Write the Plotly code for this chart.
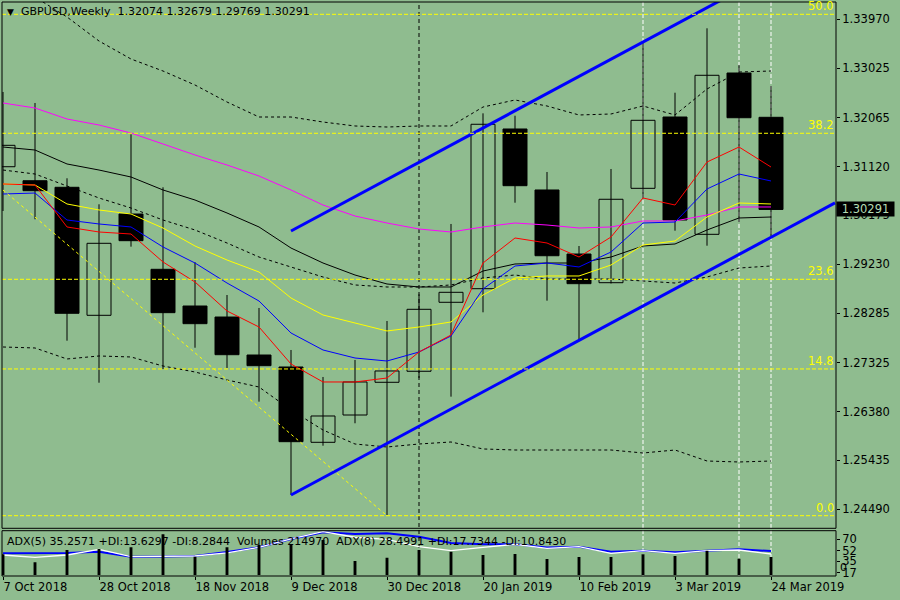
import plotly.graph_objects as go

BG = "#8FBC8F"

dates = ["2018-10-07", "2018-10-14", "2018-10-21", "2018-10-28", "2018-11-04",
         "2018-11-11", "2018-11-18", "2018-11-25", "2018-12-02", "2018-12-09",
         "2018-12-16", "2018-12-23", "2018-12-30", "2019-01-06", "2019-01-13",
         "2019-01-20", "2019-01-27", "2019-02-03", "2019-02-10", "2019-02-17",
         "2019-02-24", "2019-03-03", "2019-03-10", "2019-03-17", "2019-03-24"]

opens = [1.31118, 1.30847, 1.30720, 1.28243, 1.30203, 1.29133, 1.28423, 1.28210, 1.27475, 1.27243,
         1.25786, 1.26314, 1.26947, 1.27160, 1.28495, 1.28758, 1.31848, 1.30668, 1.29429, 1.28874,
         1.30700, 1.32080, 1.29810, 1.32931, 1.32074]
highs = [1.32564, 1.32351, 1.30894, 1.30391, 1.31745, 1.30720, 1.29269, 1.28636, 1.28385, 1.27572,
         1.27050, 1.27379, 1.28133, 1.28650, 1.30010, 1.32151, 1.32105, 1.31016, 1.29584, 1.31074,
         1.33506, 1.32550, 1.33796, 1.33086, 1.32679]
lows = [1.30261, 1.30101, 1.27752, 1.26939, 1.29571, 1.27204, 1.27616, 1.27224, 1.26572, 1.24767,
        1.25720, 1.26154, 1.24380, 1.27030, 1.26669, 1.28301, 1.30422, 1.28526, 1.27765, 1.28859,
        1.30507, 1.29880, 1.29590, 1.30048, 1.29769]
closes = [1.31532, 1.30654, 1.28282, 1.29636, 1.29687, 1.28294, 1.28081, 1.27481, 1.27268, 1.25798,
          1.26295, 1.26953, 1.27166, 1.28359, 1.28688, 1.31939, 1.30751, 1.29396, 1.28855, 1.30488,
          1.32016, 1.30087, 1.32887, 1.32066, 1.30291]

ma_magenta = [1.32351, 1.32254, 1.32041, 1.31925, 1.31770, 1.31557, 1.31345, 1.31151, 1.30938, 1.30668,
              1.30377, 1.30164, 1.30029, 1.29913, 1.29855, 1.29952, 1.30029, 1.29990, 1.29932, 1.29952,
              1.30068, 1.30068, 1.30184, 1.30339, 1.30339]
ma_black = [1.31499, 1.31441, 1.31171, 1.31054, 1.30919, 1.30668, 1.30474, 1.30223, 1.29952, 1.29545,
            1.29255, 1.29023, 1.28849, 1.28791, 1.28791, 1.29100, 1.29236, 1.29255, 1.29255, 1.29371,
            1.29584, 1.29623, 1.29894, 1.30126, 1.30145]
band_upper = [1.34827, 1.34401, 1.34015, 1.33550, 1.33202, 1.32970, 1.32699, 1.32370, 1.32080, 1.32080,
              1.31983, 1.31906, 1.31886, 1.31906, 1.31906, 1.32273, 1.32409, 1.32293, 1.32119, 1.32138,
              1.32293, 1.32119, 1.32622, 1.32950, 1.32970]
band_mid = [1.31054, 1.30977, 1.30745, 1.30513, 1.30319, 1.30087, 1.29894, 1.29642, 1.29371, 1.29178,
            1.28984, 1.28830, 1.28791, 1.28791, 1.28830, 1.28965, 1.29023, 1.28946, 1.28946, 1.28946,
            1.28907, 1.28868, 1.28984, 1.29158, 1.29197]
band_lower = [1.27630, 1.27611, 1.27398, 1.27456, 1.27437, 1.27262, 1.27146, 1.26992, 1.26856, 1.26411,
              1.26024, 1.25753, 1.25695, 1.25753, 1.25792, 1.25657, 1.25637, 1.25637, 1.25637, 1.25637,
              1.25579, 1.25637, 1.25424, 1.25405, 1.25424]
ma_yellow = [1.30784, 1.30764, 1.30397, 1.30281, 1.30203, 1.29932, 1.29584, 1.29313, 1.29081, 1.28578,
             1.28249, 1.28094, 1.27940, 1.28017, 1.28114, 1.28636, 1.28965, 1.29004, 1.29004, 1.29216,
             1.29603, 1.29681, 1.30145, 1.30416, 1.30397]
ma_blue = [1.30590, 1.30609, 1.30087, 1.30010, 1.29952, 1.29565, 1.29255, 1.28868, 1.28520, 1.27901,
           1.27572, 1.27417, 1.27359, 1.27533, 1.27843, 1.28752, 1.29197, 1.29255, 1.29178, 1.29468,
           1.30029, 1.30048, 1.30687, 1.30977, 1.30842]
ma_red = [1.30784, 1.30764, 1.29952, 1.29855, 1.29816, 1.29275, 1.28888, 1.28327, 1.28017, 1.27301,
          1.26953, 1.26953, 1.27030, 1.27533, 1.27862, 1.29255, 1.29739, 1.29642, 1.29371, 1.29758,
          1.30513, 1.30377, 1.31209, 1.31499, 1.31112]

volumes = [247000, 152000, 299000, 310000, 331000, 486000, 219000, 331000, 358000, 358000,
           418000, 167000, 207000, 300000, 279000, 239000, 251000, 191000, 215000, 215000,
           247000, 227000, 290000, 195000, 214970]
adx_blue = [47.8, 47.5, 48.3, 50.3, 42.4, 42.7, 43.5, 49.8, 57.3, 70.5, 81.1, 78.4, 79.5, 74.1, 64.0,
            62.1, 62.1, 56.8, 58.3, 50.3, 51.9, 49.4, 51.9, 54.1, 51.4]
adx_white = [45.1, 41.4, 45.1, 54.1, 42.4, 43.5, 43.5, 48.3, 57.3, 70.5, 82.1, 73.2, 70.0, 58.3, 51.9,
             57.3, 62.1, 55.7, 58.3, 47.8, 51.9, 47.8, 51.9, 53.0, 46.7]

price_ticks = [1.33970, 1.33025, 1.32065, 1.31120, 1.30175, 1.29230, 1.28285, 1.27325, 1.26380, 1.25435, 1.24490]
adx_ticks = [70, 52, 35, 17]
x_tick_dates = ["2018-10-07", "2018-10-28", "2018-11-18", "2018-12-09", "2018-12-30",
                "2019-01-20", "2019-02-10", "2019-03-03", "2019-03-24"]
x_tick_labels = ["7 Oct 2018", "28 Oct 2018", "18 Nov 2018", "9 Dec 2018", "30 Dec 2018",
                 "20 Jan 2019", "10 Feb 2019", "3 Mar 2019", "24 Mar 2019"]

fib_levels = [1.34067, 1.31765, 1.28940, 1.27205, 1.24366]
fib_labels = ["50.0", "38.2", "23.6", "14.8", "0.0"]
fib_trend_dates = ["2018-10-07", "2018-12-30"]
fib_trend_prices = [1.30668, 1.24366]

channel_dates = ["2018-12-09", "2019-04-07"]
channel_lower = [1.24767, 1.30418]
channel_upper = [1.29874, 1.35525]

vline_black = ["2019-01-06"]
vline_white = ["2019-02-24", "2019-03-17", "2019-03-24"]

header_text = "GBPUSD,Weekly\u00a0\u00a01.32074 1.32679 1.29769 1.30291"
adx_text = ("ADX(5) 35.2571 +DI:13.6297 -DI:8.2844\u00a0\u00a0Volumes 214970\u00a0\u00a0"
            "ADX(8) 28.4991 +DI:17.7344 -DI:10.8430")

# ---- geometry (pixels of the 900x600 page) ----
W, H = 900, 600
ML, MR, MT, MB = 2, 64, 2, 24
PW, PH = W - ML - MR, H - MT - MB
def px_x(p):
    return (p - ML) / PW
def px_y(p):
    return (H - MB - p) / PH

main_dom = [px_y(528.3), 1.0]
sub_dom = [0.0, px_y(530.7)]

DAY = 86400000
WEEK = 7 * DAY
FS = 11

fig = go.Figure()

# wicks
wx, wy = [], []
for d, lo, hi in zip(dates, lows, highs):
    wx += [d, d, None]
    wy += [lo, hi, None]
fig.add_trace(go.Scatter(x=wx, y=wy, mode="lines", line=dict(color="black", width=1),
                         hoverinfo="skip", showlegend=False, xaxis="x", yaxis="y"))

# bodies
body_base = [min(o, c) for o, c in zip(opens, closes)]
body_h = [max(abs(c - o), 0.00002) for o, c in zip(opens, closes)]
body_col = ["black" if c < o else BG for o, c in zip(opens, closes)]
fig.add_trace(go.Bar(x=dates, y=body_h, base=body_base, width=0.75 * WEEK,
                     marker=dict(color=body_col, line=dict(color="black", width=1)),
                     hoverinfo="skip", showlegend=False, xaxis="x", yaxis="y"))

def line(y, color, dash="solid", width=1):
    fig.add_trace(go.Scatter(x=dates, y=y, mode="lines",
                             line=dict(color=color, width=width, dash=dash),
                             hoverinfo="skip", showlegend=False, xaxis="x", yaxis="y"))

line(band_upper, "black", "3px,3px")
line(band_mid, "black", "3px,3px")
line(band_lower, "black", "3px,3px")
line(ma_black, "black")
line(ma_magenta, "#FF00FF")
line(ma_yellow, "#FFFF00")
line(ma_blue, "#0000FF")
line(ma_red, "#FF0000")

# fib trend (diagonal)
fig.add_trace(go.Scatter(x=fib_trend_dates, y=fib_trend_prices, mode="lines",
                         line=dict(color="#FFFF00", width=1, dash="3px,3px"),
                         hoverinfo="skip", showlegend=False, xaxis="x", yaxis="y"))
# channel
for ys in (channel_upper, channel_lower):
    fig.add_trace(go.Scatter(x=channel_dates, y=ys, mode="lines",
                             line=dict(color="#0000FF", width=3),
                             hoverinfo="skip", showlegend=False, xaxis="x", yaxis="y"))

# sub window: volumes + ADX lines
fig.add_trace(go.Bar(x=dates, y=volumes, width=0.09 * WEEK, marker=dict(color="black", line=dict(width=0)),
                     hoverinfo="skip", showlegend=False, xaxis="x", yaxis="y3"))
fig.add_trace(go.Scatter(x=dates, y=adx_blue, mode="lines", line=dict(color="#0000FF", width=2),
                         hoverinfo="skip", showlegend=False, xaxis="x", yaxis="y2"))
fig.add_trace(go.Scatter(x=dates, y=adx_white, mode="lines", line=dict(color="white", width=1.3),
                         hoverinfo="skip", showlegend=False, xaxis="x", yaxis="y2"))

shapes = []
for d in vline_black:
    shapes.append(dict(type="line", xref="x", yref="paper", x0=d, x1=d, y0=0, y1=1,
                       line=dict(color="black", width=1, dash="4px,3px"), layer="below"))
for d in vline_white:
    shapes.append(dict(type="line", xref="x", yref="paper", x0=d, x1=d, y0=0, y1=1,
                       line=dict(color="white", width=1, dash="4px,2px"), layer="below"))
for lv in fib_levels:
    shapes.append(dict(type="line", xref="paper", yref="y", x0=0, x1=1, y0=lv, y1=lv,
                       line=dict(color="#FFFF00", width=1, dash="4px,2px"), layer="above"))
for dom in (main_dom, sub_dom):
    shapes.append(dict(type="rect", xref="paper", yref="paper", x0=0, x1=1, y0=dom[0], y1=dom[1],
                       line=dict(color="black", width=1), fillcolor="rgba(0,0,0,0)", layer="above"))

annotations = []
for lv, lb in zip(fib_levels, fib_labels):
    annotations.append(dict(xref="paper", yref="y", x=1, y=lv, text=lb, showarrow=False,
                            xanchor="right", yanchor="bottom", yshift=-1,
                            font=dict(color="#FFFF00", size=FS + 0.5)))
annotations.append(dict(xref="paper", yref="paper", x=px_x(5), y=px_y(12), text="\u25BC", showarrow=False,
                        xanchor="left", yanchor="middle", font=dict(size=9, color="black")))
annotations.append(dict(xref="paper", yref="paper", x=px_x(19), y=px_y(12), text=header_text, showarrow=False,
                        xanchor="left", yanchor="middle", font=dict(size=FS, color="black")))
annotations.append(dict(xref="paper", yref="paper", x=px_x(5), y=px_y(541), text=adx_text, showarrow=False,
                        xanchor="left", yanchor="middle", font=dict(size=FS, color="black")))
annotations.append(dict(xref="paper", yref="y", x=1, y=closes[-1], text="%.5f" % closes[-1], showarrow=False,
                        xanchor="left", yanchor="middle", xshift=0, width=57, align="center",
                        bgcolor="black", borderpad=0, font=dict(size=FS + 0.5, color="#B4DCB4")))
annotations.append(dict(xref="paper", yref="paper", x=1, y=px_y(567.5), text="0", showarrow=False,
                        xanchor="left", yanchor="middle", xshift=2, font=dict(size=FS, color="black")))

axis_font = dict(family="DejaVu Sans", size=FS + 0.5, color="black")

fig.update_layout(
    width=W, height=H,
    margin=dict(l=ML, r=MR, t=MT, b=MB, pad=0),
    paper_bgcolor=BG, plot_bgcolor=BG,
    font=dict(family="DejaVu Sans", size=FS, color="black"),
    barmode="overlay",
    showlegend=False,
    hovermode=False,
    xaxis=dict(domain=[0, 1], anchor="y2", type="date",
               range=["2018-10-06 18:45", "2019-04-07 05:15"],
               tickvals=x_tick_dates, ticktext=x_tick_labels,
               ticks="outside", ticklen=3, tickcolor="black", ticklabelposition="outside right",
               showgrid=False, zeroline=False, showline=False, tickfont=axis_font),
    yaxis=dict(domain=main_dom, anchor="x", side="right", range=[1.24122, 1.34305],
               tickvals=price_ticks, tickformat=".5f",
               ticks="outside", ticklen=3, tickcolor="black",
               showgrid=False, zeroline=False, showline=False, tickfont=axis_font),
    yaxis2=dict(domain=sub_dom, anchor="x", side="right", range=[11.8, 83.6],
                tickvals=adx_ticks, ticks="outside", ticklen=3, tickcolor="black",
                showgrid=False, zeroline=False, showline=False, tickfont=axis_font),
    yaxis3=dict(overlaying="y2", anchor="x", side="right", range=[-11943, 529000], visible=False),
    shapes=shapes,
    annotations=annotations,
)

fig.write_html("out.html", config={"displayModeBar": False},
               post_script="document.body.style.margin='0';document.body.style.overflow='hidden';")
